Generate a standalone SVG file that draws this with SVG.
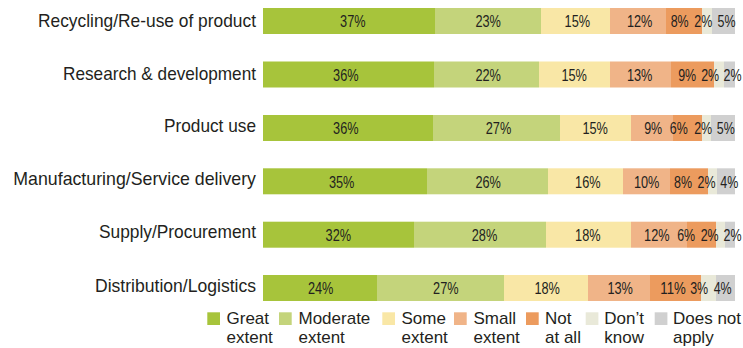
<svg xmlns="http://www.w3.org/2000/svg" width="743" height="348" viewBox="0 0 743 348">
<style>
text{font-family:"Liberation Sans",Arial,sans-serif;fill:#231f20}
.lbl{font-size:19px;text-anchor:end}
.pc{font-size:16px;text-anchor:middle}
.lg{font-size:17px}
.c1{fill:#a7c43b}.c2{fill:#c4d47b}.c3{fill:#f9e7a6}.c4{fill:#f0b488}.c5{fill:#ec9b5e}.c6{fill:#e9e9d9}.c7{fill:#d0d0d0}
</style>
<rect width="743" height="348" fill="#fff"/>
<g id="row1">
<text class="lbl" x="256" y="26.7" textLength="218" lengthAdjust="spacingAndGlyphs">Recycling/Re-use of product</text>
<rect class="c1" x="263" y="8" width="172" height="26"/><rect class="c2" x="435" y="8" width="106" height="26"/><rect class="c3" x="541" y="8" width="69" height="26"/><rect class="c4" x="610" y="8" width="56" height="26"/><rect class="c5" x="666" y="8" width="36" height="26"/><rect class="c6" x="702" y="8" width="10" height="26"/><rect class="c7" x="712" y="8" width="23" height="26"/>
<g><text class="pc" x="352.8" y="27.3" textLength="25.5" lengthAdjust="spacingAndGlyphs">37%</text><text class="pc" x="488.2" y="27.3" textLength="25.5" lengthAdjust="spacingAndGlyphs">23%</text><text class="pc" x="577.3" y="27.3" textLength="25.5" lengthAdjust="spacingAndGlyphs">15%</text><text class="pc" x="639.7" y="27.3" textLength="25.5" lengthAdjust="spacingAndGlyphs">12%</text><text class="pc" x="679.7" y="27.3" textLength="18" lengthAdjust="spacingAndGlyphs">8%</text><text class="pc" x="703.3" y="27.3" textLength="18" lengthAdjust="spacingAndGlyphs">2%</text><text class="pc" x="726.5" y="27.3" textLength="18" lengthAdjust="spacingAndGlyphs">5%</text></g>
</g>
<g id="row2">
<text class="lbl" x="256" y="80.2" textLength="193" lengthAdjust="spacingAndGlyphs">Research &amp; development</text>
<rect class="c1" x="263" y="61.5" width="171" height="26"/><rect class="c2" x="434" y="61.5" width="105" height="26"/><rect class="c3" x="539" y="61.5" width="71" height="26"/><rect class="c4" x="610" y="61.5" width="61" height="26"/><rect class="c5" x="671" y="61.5" width="43" height="26"/><rect class="c6" x="714" y="61.5" width="10" height="26"/><rect class="c7" x="724" y="61.5" width="11" height="26"/>
<g><text class="pc" x="345.8" y="80.8" textLength="25.5" lengthAdjust="spacingAndGlyphs">36%</text><text class="pc" x="488.2" y="80.8" textLength="25.5" lengthAdjust="spacingAndGlyphs">22%</text><text class="pc" x="574.2" y="80.8" textLength="25.5" lengthAdjust="spacingAndGlyphs">15%</text><text class="pc" x="639.7" y="80.8" textLength="25.5" lengthAdjust="spacingAndGlyphs">13%</text><text class="pc" x="687.2" y="80.8" textLength="18" lengthAdjust="spacingAndGlyphs">9%</text><text class="pc" x="710.2" y="80.8" textLength="18" lengthAdjust="spacingAndGlyphs">2%</text><text class="pc" x="732.5" y="80.8" textLength="18" lengthAdjust="spacingAndGlyphs">2%</text></g>
</g>
<g id="row3">
<text class="lbl" x="256" y="131.7" textLength="92" lengthAdjust="spacingAndGlyphs">Product use</text>
<rect class="c1" x="263" y="115" width="170" height="26"/><rect class="c2" x="433" y="115" width="127" height="26"/><rect class="c3" x="560" y="115" width="71" height="26"/><rect class="c4" x="631" y="115" width="42" height="26"/><rect class="c5" x="673" y="115" width="29" height="26"/><rect class="c6" x="702" y="115" width="9" height="26"/><rect class="c7" x="711" y="115" width="24" height="26"/>
<g><text class="pc" x="345.8" y="134.3" textLength="25.5" lengthAdjust="spacingAndGlyphs">36%</text><text class="pc" x="498.5" y="134.3" textLength="25.5" lengthAdjust="spacingAndGlyphs">27%</text><text class="pc" x="595.2" y="134.3" textLength="25.5" lengthAdjust="spacingAndGlyphs">15%</text><text class="pc" x="653.2" y="134.3" textLength="18" lengthAdjust="spacingAndGlyphs">9%</text><text class="pc" x="678.8" y="134.3" textLength="18" lengthAdjust="spacingAndGlyphs">6%</text><text class="pc" x="703.2" y="134.3" textLength="18" lengthAdjust="spacingAndGlyphs">2%</text><text class="pc" x="725.8" y="134.3" textLength="18" lengthAdjust="spacingAndGlyphs">5%</text></g>
</g>
<g id="row4">
<text class="lbl" x="256" y="185.3" textLength="242.7" lengthAdjust="spacingAndGlyphs">Manufacturing/Service delivery</text>
<rect class="c1" x="263" y="168.3" width="164" height="26"/><rect class="c2" x="427" y="168.3" width="121" height="26"/><rect class="c3" x="548" y="168.3" width="75" height="26"/><rect class="c4" x="623" y="168.3" width="47" height="26"/><rect class="c5" x="670" y="168.3" width="38" height="26"/><rect class="c6" x="708" y="168.3" width="9" height="26"/><rect class="c7" x="717" y="168.3" width="18" height="26"/>
<g><text class="pc" x="341.7" y="187.6" textLength="25.5" lengthAdjust="spacingAndGlyphs">35%</text><text class="pc" x="488.2" y="187.6" textLength="25.5" lengthAdjust="spacingAndGlyphs">26%</text><text class="pc" x="587.8" y="187.6" textLength="25.5" lengthAdjust="spacingAndGlyphs">16%</text><text class="pc" x="646.7" y="187.6" textLength="25.5" lengthAdjust="spacingAndGlyphs">10%</text><text class="pc" x="683" y="187.6" textLength="18" lengthAdjust="spacingAndGlyphs">8%</text><text class="pc" x="706.5" y="187.6" textLength="18" lengthAdjust="spacingAndGlyphs">2%</text><text class="pc" x="729.3" y="187.6" textLength="18" lengthAdjust="spacingAndGlyphs">4%</text></g>
</g>
<g id="row5">
<text class="lbl" x="256" y="238.3" textLength="157" lengthAdjust="spacingAndGlyphs">Supply/Procurement</text>
<rect class="c1" x="263" y="221.7" width="151" height="26"/><rect class="c2" x="414" y="221.7" width="132" height="26"/><rect class="c3" x="546" y="221.7" width="85" height="26"/><rect class="c4" x="631" y="221.7" width="56" height="26"/><rect class="c5" x="687" y="221.7" width="29" height="26"/><rect class="c6" x="716" y="221.7" width="9" height="26"/><rect class="c7" x="725" y="221.7" width="10" height="26"/>
<g><text class="pc" x="338.3" y="241" textLength="25.5" lengthAdjust="spacingAndGlyphs">32%</text><text class="pc" x="484.5" y="241" textLength="25.5" lengthAdjust="spacingAndGlyphs">28%</text><text class="pc" x="587.8" y="241" textLength="25.5" lengthAdjust="spacingAndGlyphs">18%</text><text class="pc" x="656.8" y="241" textLength="25.5" lengthAdjust="spacingAndGlyphs">12%</text><text class="pc" x="686.2" y="241" textLength="18" lengthAdjust="spacingAndGlyphs">6%</text><text class="pc" x="709.7" y="241" textLength="18" lengthAdjust="spacingAndGlyphs">2%</text><text class="pc" x="732.5" y="241" textLength="18" lengthAdjust="spacingAndGlyphs">2%</text></g>
</g>
<g id="row6">
<text class="lbl" x="256" y="291.7" textLength="161" lengthAdjust="spacingAndGlyphs">Distribution/Logistics</text>
<rect class="c1" x="263" y="275" width="114" height="26"/><rect class="c2" x="377" y="275" width="127" height="26"/><rect class="c3" x="504" y="275" width="84" height="26"/><rect class="c4" x="588" y="275" width="62" height="26"/><rect class="c5" x="650" y="275" width="51" height="26"/><rect class="c6" x="701" y="275" width="15" height="26"/><rect class="c7" x="716" y="275" width="19" height="26"/>
<g><text class="pc" x="320.7" y="294.3" textLength="25.5" lengthAdjust="spacingAndGlyphs">24%</text><text class="pc" x="445.8" y="294.3" textLength="25.5" lengthAdjust="spacingAndGlyphs">27%</text><text class="pc" x="547.2" y="294.3" textLength="25.5" lengthAdjust="spacingAndGlyphs">18%</text><text class="pc" x="620.2" y="294.3" textLength="25.5" lengthAdjust="spacingAndGlyphs">13%</text><text class="pc" x="673" y="294.3" textLength="25.5" lengthAdjust="spacingAndGlyphs">11%</text><text class="pc" x="699.2" y="294.3" textLength="18" lengthAdjust="spacingAndGlyphs">3%</text><text class="pc" x="722.7" y="294.3" textLength="18" lengthAdjust="spacingAndGlyphs">4%</text></g>
</g>
<g id="connectors"></g>
<g id="legend">
<rect class="c1" x="207.3" y="312.3" width="12.7" height="12.7"/><text class="lg" x="226.5" y="324">Great</text><text class="lg" x="226.5" y="342.5">extent</text>
<rect class="c2" x="279" y="312.3" width="12.7" height="12.7"/><text class="lg" x="298.5" y="324">Moderate</text><text class="lg" x="298.5" y="342.5">extent</text>
<rect class="c3" x="382.3" y="312.3" width="12.7" height="12.7"/><text class="lg" x="401.5" y="324">Some</text><text class="lg" x="401.5" y="342.5">extent</text>
<rect class="c4" x="454" y="312.3" width="12.7" height="12.7"/><text class="lg" x="473.5" y="324">Small</text><text class="lg" x="473.5" y="342.5">extent</text>
<rect class="c5" x="526" y="312.3" width="12.7" height="12.7"/><text class="lg" x="545" y="324">Not</text><text class="lg" x="545" y="342.5">at all</text>
<rect class="c6" x="585.7" y="312.3" width="12.7" height="12.7"/><text class="lg" x="604.3" y="324">Don’t</text><text class="lg" x="604.3" y="342.5">know</text>
<rect class="c7" x="654.7" y="312.3" width="12.7" height="12.7"/><text class="lg" x="673" y="324">Does not</text><text class="lg" x="673" y="342.5">apply</text>
</g>
</svg>
